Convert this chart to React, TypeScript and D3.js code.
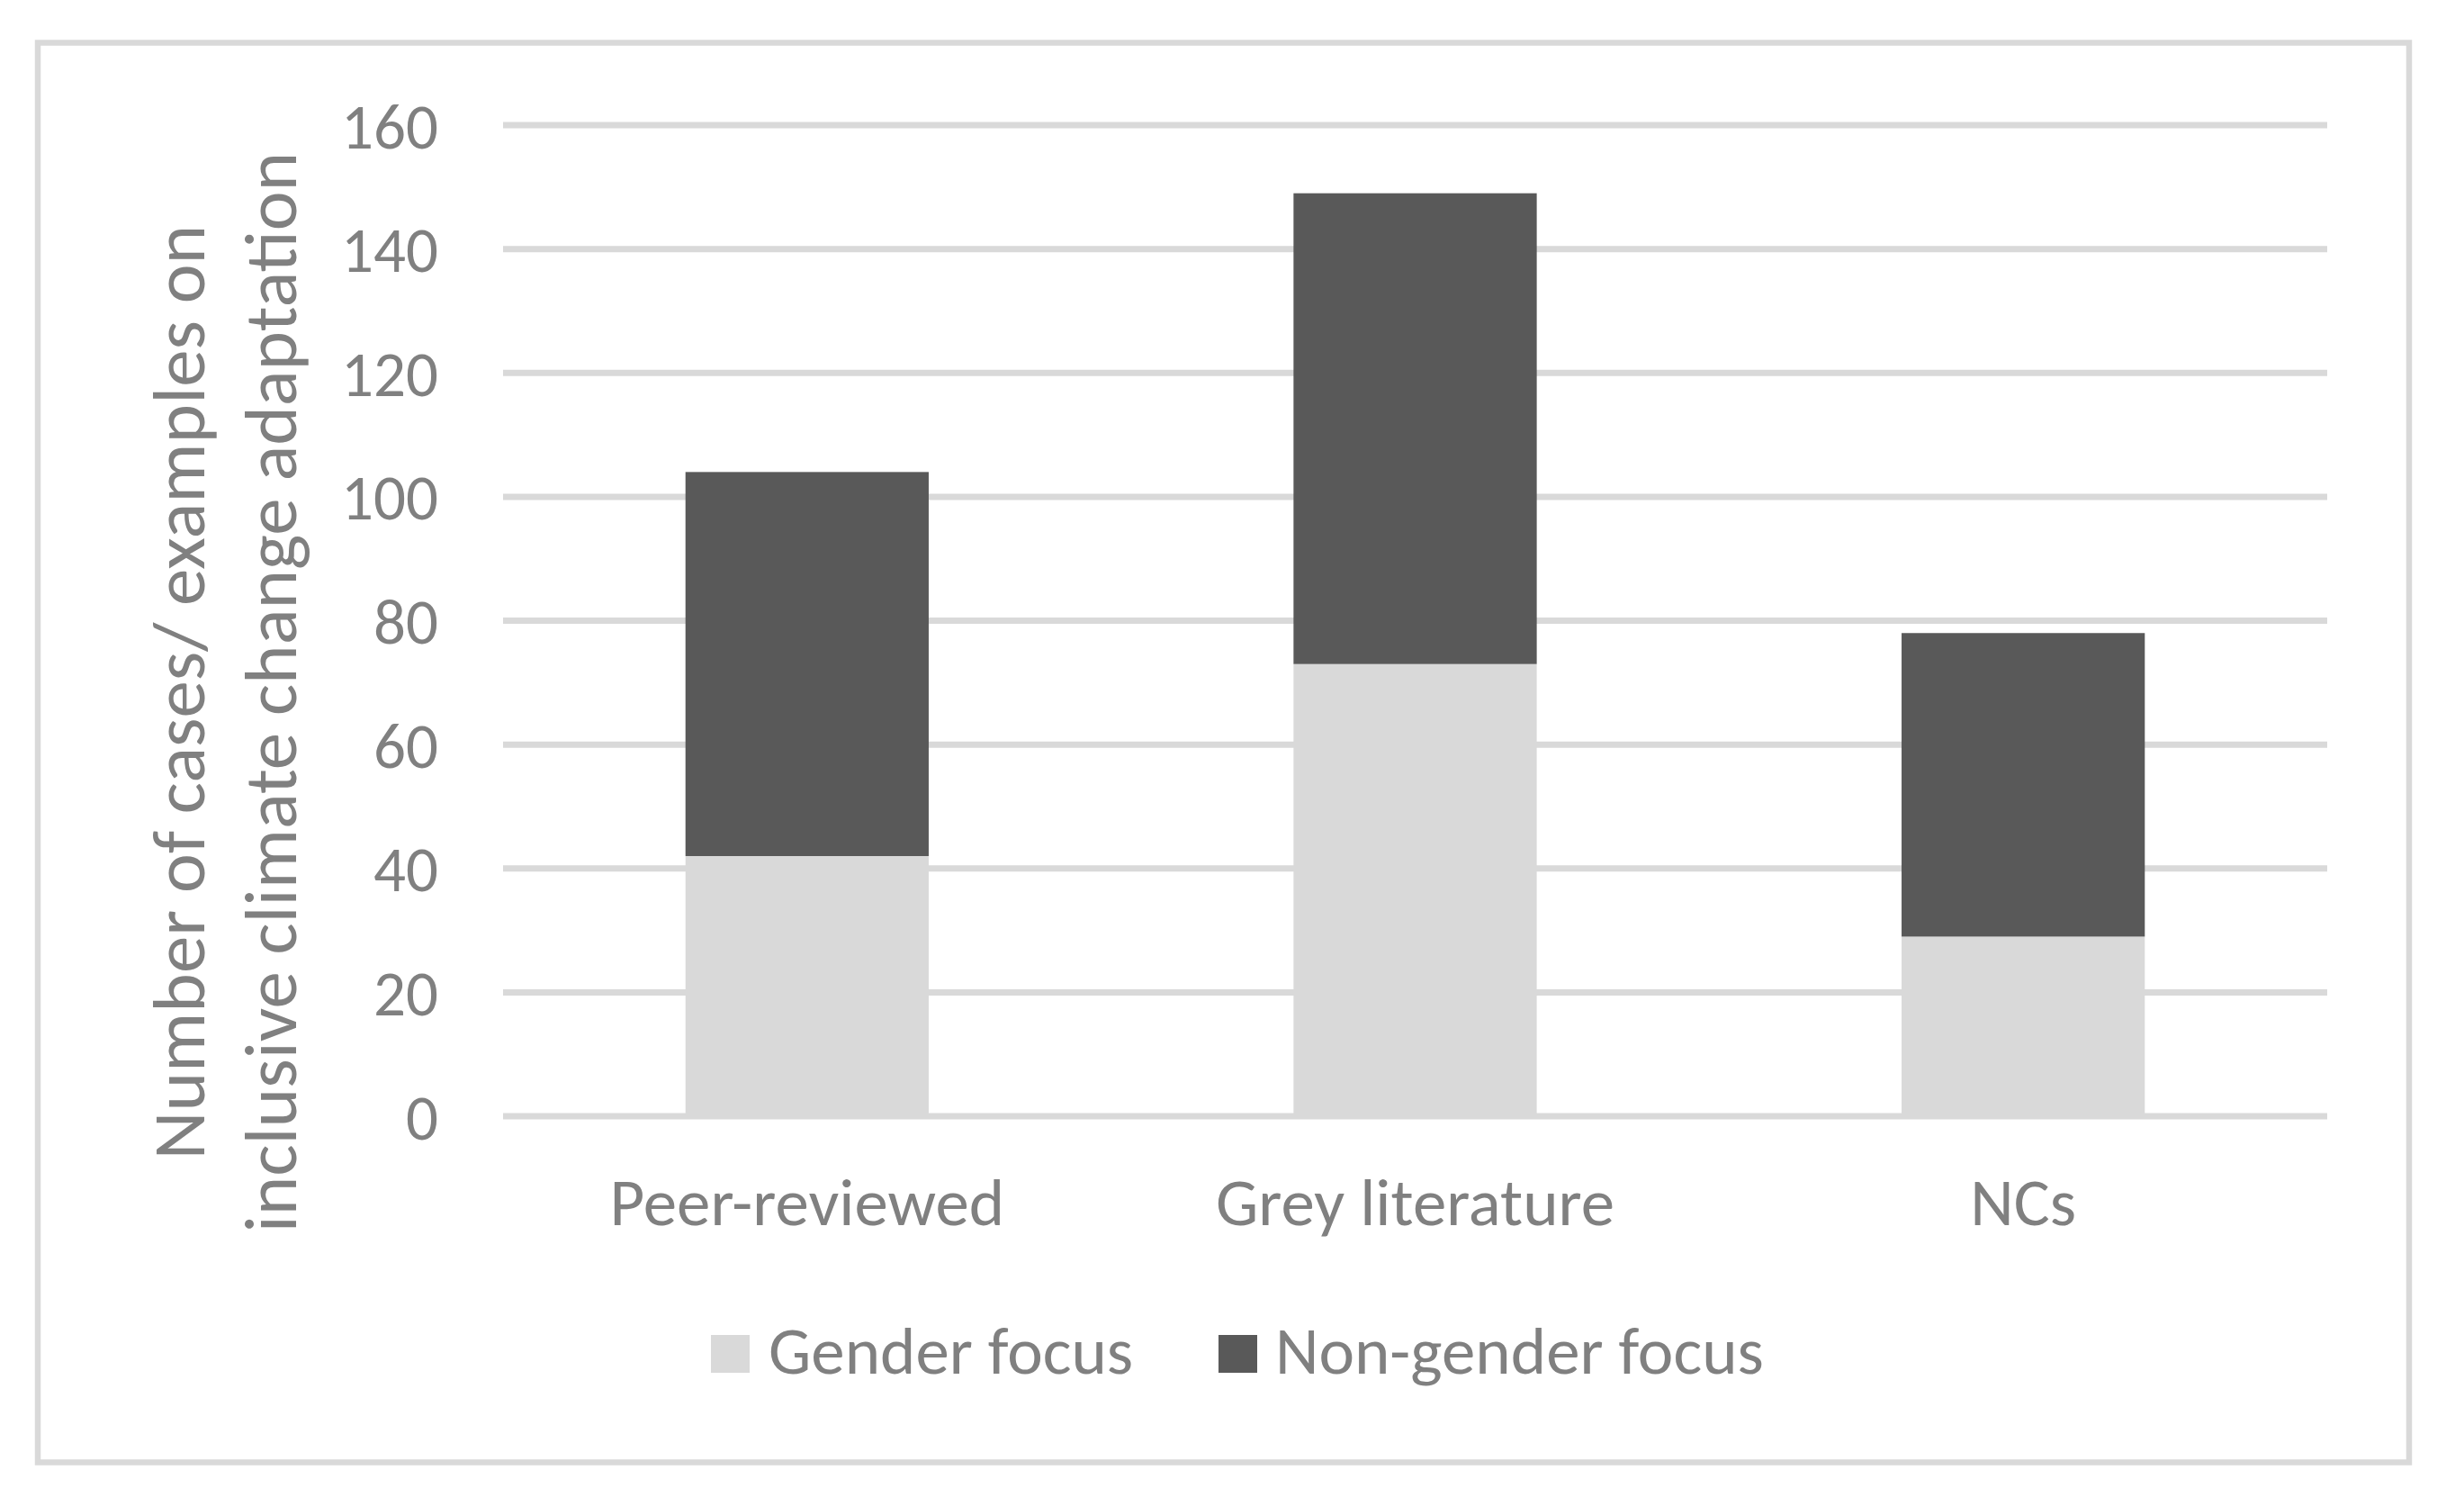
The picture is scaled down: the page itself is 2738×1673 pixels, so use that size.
import React from "react";
import * as d3 from "d3";

const categories = ["Peer-reviewed", "Grey literature", "NCs"];
const genderFocus = [42, 73, 29];
const nonGenderFocus = [62, 76, 49];
const seriesNames = ["Gender focus", "Non-gender focus"];
const seriesColors = ["#d9d9d9", "#595959"];
const yTicks = [0, 20, 40, 60, 80, 100, 120, 140, 160];
const yTitleLines = ["Number of cases/ examples on", "inclusive climate change adaptation"];

const W = 2738;
const H = 1673;
const FONT = "Carlito, Calibri, Lato, sans-serif";
const TEXT = "#808080";

export default function App() {
  const x = d3.scaleBand<string>().domain(categories).range([559, 2586]).paddingInner(0.6).paddingOuter(0.3);
  const y = d3.scaleLinear().domain([0, 160]).range([1240, 139]);

  const rows = categories.map((c, i) => ({ cat: c, g: genderFocus[i], n: nonGenderFocus[i] }));
  const stack = d3.stack<any>().keys(["g", "n"])(rows);

  return (
    <svg width={W} height={H} style={{ position: "absolute", left: 0, top: 0, background: "#fff" }} fontFamily={FONT}>
      <rect x={0} y={0} width={W} height={H} fill="#fff" />
      <rect x={42} y={47.5} width={2635} height={1577} fill="#fff" stroke="#d9d9d9" strokeWidth={6.5} />
      {yTicks.map((t) => (
        <line key={t} x1={559} x2={2586} y1={y(t)} y2={y(t)} stroke="#d9d9d9" strokeWidth={7} />
      ))}
      {stack.map((s, si) => (
        <g key={si} fill={seriesColors[si]}>
          {s.map((d, i) => (
            <rect key={i} x={x(categories[i])} width={x.bandwidth()} y={y(d[1])} height={y(d[0]) - y(d[1])} />
          ))}
        </g>
      ))}
      {yTicks.map((t) => (
        <text key={t} x={487} y={y(t)} dy="0.36em" textAnchor="end" fontSize={71} fill={TEXT}>
          {t}
        </text>
      ))}
      {categories.map((c) => (
        <text key={c} x={(x(c) as number) + x.bandwidth() / 2} y={1361} textAnchor="middle" fontSize={75} fill={TEXT}>
          {c}
        </text>
      ))}
      {yTitleLines.map((l, i) => (
        <text key={i} transform={`translate(${227 + i * 102},769) rotate(-90)`} textAnchor="middle" fontSize={83} fill={TEXT}>
          {l}
        </text>
      ))}
      <g>
        <rect x={790} y={1483} width={43} height={42} fill={seriesColors[0]} />
        <text x={854} y={1526} fontSize={75} fill={TEXT}>{seriesNames[0]}</text>
        <rect x={1354} y={1483} width={43} height={42} fill={seriesColors[1]} />
        <text x={1417} y={1526} fontSize={75} fill={TEXT}>{seriesNames[1]}</text>
      </g>
    </svg>
  );
}
